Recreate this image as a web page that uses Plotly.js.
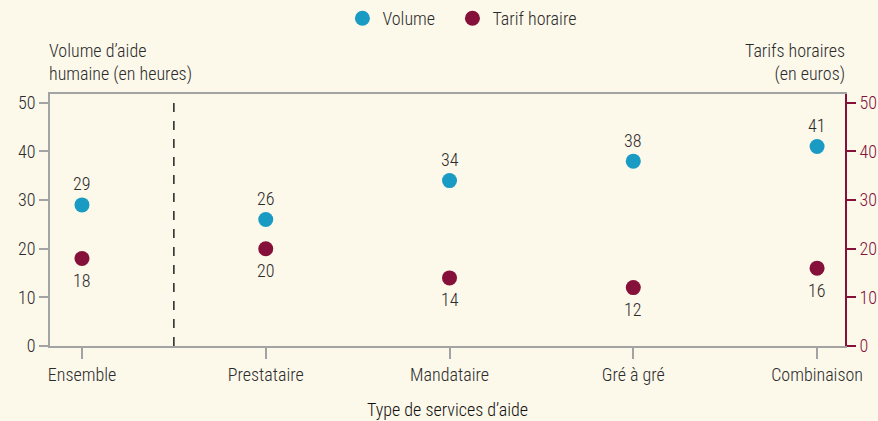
<!DOCTYPE html>
<html><head><meta charset="utf-8">
<script src="https://cdn.plot.ly/plotly-3.0.1.min.js"></script>
<style>html,body{margin:0;padding:0;background:#fcf8ea;}#chart{width:878px;height:421px;}</style>
</head><body><div id="chart"></div>
<script>
const categories = ["Ensemble", "Prestataire", "Mandataire", "Gré à gré", "Combinaison"];
const volume = [29, 26, 34, 38, 41];
const tarif = [18, 20, 14, 12, 16];
const yTicks = [0, 10, 20, 30, 40, 50];

const FONT = "Roboto Condensed, Liberation Sans, sans-serif";
const FS = 18;
const FW = 300;
const BLUE = "#1a9bc3";
const RED = "#851039";
const TXT = "#2b2b2b";
const GRID = "#a3a3a3";

const traces = [
  {x: categories, y: volume, name: "Volume", type: "scatter", mode: "markers", legend: "legend",
   marker: {color: BLUE, size: 15}, cliponaxis: false},
  {x: categories, y: tarif, name: "Tarif horaire", type: "scatter", mode: "markers", yaxis: "y2", legend: "legend2",
   marker: {color: RED, size: 15}, cliponaxis: false}
];

const labelFont = {family: FONT, size: FS, color: TXT, weight: FW};
const volLabels = categories.map((c, i) => ({
  x: c, y: volume[i], xref: "x", yref: "y", text: String(volume[i]), showarrow: false,
  yshift: 21, font: labelFont}));
const tarLabels = categories.map((c, i) => ({
  x: c, y: tarif[i], xref: "x", yref: "y2", text: String(tarif[i]), showarrow: false,
  yshift: -22, font: labelFont}));

const legendBase = {orientation: "h", xref: "container", xanchor: "left", yref: "container", y: 1, yanchor: "top",
  font: {family: FONT, size: FS, color: TXT, weight: FW}, itemwidth: 30, bgcolor: "rgba(0,0,0,0)"};

const layout = {
  width: 878, height: 421,
  paper_bgcolor: "#fcf8ea", plot_bgcolor: "#fcf8ea",
  margin: {l: 50, r: 33, t: 94, b: 75},
  font: {family: FONT, size: FS, color: TXT, weight: FW},
  showlegend: true,
  legend: Object.assign({}, legendBase, {x: 0.39}),
  legend2: Object.assign({}, legendBase, {x: 0.5153}),
  xaxis: {type: "category", range: [-0.174, 4.152], showgrid: false, zeroline: false,
          showline: true, linecolor: GRID, linewidth: 2, mirror: true,
          ticks: "outside", ticklen: 11, tickcolor: GRID, tickwidth: 2,
          tickfont: {family: FONT, size: FS, color: TXT, weight: FW},
          title: {text: "Type de services d’aide", font: {family: FONT, size: FS, color: "#111", weight: FW}, standoff: 20}},
  yaxis: {range: [0, 51.8], tickvals: yTicks, showgrid: false, zeroline: false,
          showline: true, linecolor: GRID, linewidth: 2,
          ticks: "outside", ticklen: 9, tickcolor: GRID, tickwidth: 2,
          tickfont: {family: FONT, size: FS, color: TXT, weight: FW}},
  yaxis2: {range: [0, 51.8], tickvals: yTicks, overlaying: "y", side: "right", showgrid: false, zeroline: false,
           showline: true, linecolor: RED, linewidth: 2,
           ticks: "outside", ticklen: 9, tickcolor: RED, tickwidth: 2,
           tickfont: {family: FONT, size: FS, color: RED, weight: FW}},
  shapes: [{type: "line", xref: "x", yref: "paper", x0: 0.5, x1: 0.5, y0: 0, y1: 1,
            line: {color: "#222", width: 1.5, dash: "dash"}}],
  annotations: [
    {text: "Volume d’aide<br>humaine (en heures)", xref: "paper", yref: "paper", x: 0, y: 1, xshift: -3, yshift: 7,
     xanchor: "left", yanchor: "bottom", align: "left", showarrow: false, font: labelFont},
    {text: "Tarifs horaires<br>(en euros)", xref: "paper", yref: "paper", x: 1, y: 1, xshift: 2, yshift: 7,
     xanchor: "right", yanchor: "bottom", align: "right", showarrow: false, font: labelFont}
  ].concat(volLabels, tarLabels)
};

Plotly.newPlot("chart", traces, layout, {displayModeBar: false, staticPlot: true});
</script></body></html>
